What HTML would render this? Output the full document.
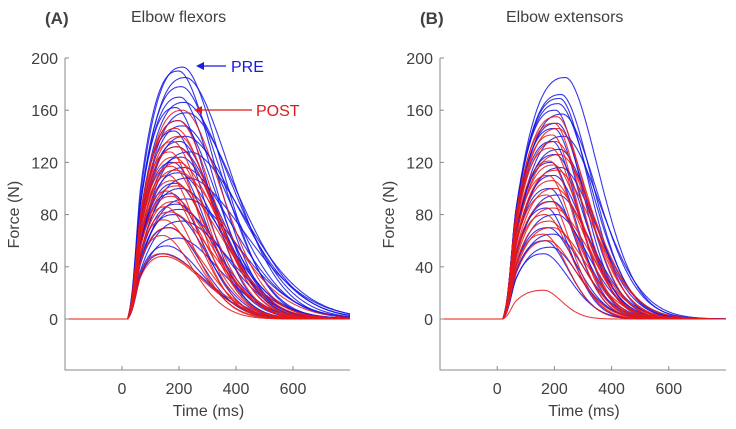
<!DOCTYPE html>
<html><head><meta charset="utf-8">
<style>
body{margin:0;background:#fff;}
svg{display:block;font-family:"Liberation Sans",sans-serif;}
.tk{font-size:16px;fill:#404040;}
</style></head>
<body>
<svg id="c" width="736" height="429" viewBox="0 0 736 429"></svg>
<script>
// Panel A: Elbow flexors
const flexPrePeaks=[193,190,185,178,170,166,162,158,152,148,144,140,136,132,128,124,120,116,112,108,104,100,96,92,88,84,80,75,70,62,56,50];
const flexPreTimes=[215,200,225,210,205,220,190,230,200,215,185,225,205,195,240,210,180,220,200,235,190,210,175,230,195,205,185,215,170,200,160,150];
const flexPreDecay=[200,190,230,210,180,250,170,260,200,240,160,270,190,220,280,200,170,250,210,290,180,230,160,260,200,220,170,240,160,210,180,200];
const flexPostPeaks=[160,152,146,140,136,132,128,124,120,117,114,110,106,102,98,94,90,86,82,76,70,64,50,48];
const flexPostTimes=[215,200,190,205,180,195,170,185,200,175,190,165,180,195,160,175,185,155,170,150,165,145,140,150];
const flexPostDecay=[200,180,190,170,160,200,150,180,210,170,260,150,190,230,160,200,170,150,220,160,180,150,220,200];
// Panel B: Elbow extensors
const extPrePeaks=[185,172,169,165,160,157,150,146,140,136,130,126,120,116,110,100,95,90,85,80,70,65,60,55,50];
const extPreTimes=[240,225,220,215,205,230,210,200,235,195,220,205,190,225,200,185,215,195,175,210,180,200,170,190,165];
const extPreDecay=[170,160,150,170,140,180,150,140,190,130,170,150,130,180,160,130,170,150,120,160,140,150,120,140,130];
const extPostPeaks=[155,150,146,141,136,131,126,121,118,114,110,106,100,95,90,85,80,75,70,65,60,22];
const extPostTimes=[210,200,215,195,205,190,220,185,200,210,180,195,205,175,190,200,170,185,195,165,180,165];
const extPostDecay=[150,140,160,130,170,140,180,130,150,190,130,160,170,120,150,180,130,150,170,120,140,90];
const xTicks=[0,200,400,600];
const yTicks=[0,40,80,120,160,200];

const NS="http://www.w3.org/2000/svg";
const svg=document.getElementById('c');
function mk(tag,attrs,parent){const e=document.createElementNS(NS,tag);for(const k in attrs)e.setAttribute(k,attrs[k]);(parent||svg).appendChild(e);return e;}

function shape(t,A,tp,d){
  const t0=20;
  if(t<=t0)return 0;
  if(t<=tp){
    const u=(t-t0)/(tp-t0);
    const rise=1-Math.pow(1-u,2.6);
    const start=Math.min(1,(t-t0)/45);
    const sm=start*start*(3-2*start);
    return A*rise*(0.35+0.65*sm);
  }
  const w=(t-tp)/d;
  return A*Math.exp(-Math.pow(w,1.8));
}

function panel(x0,x1,letter,title,series,key){
  const yTop=58,yZero=319,yBot=370;
  const X=t=>x0+(t+200)/1000*(x1-x0);
  const Y=v=>yZero-(v)/200*(yZero-yTop);
  const g=mk('g',{});
  
  
  series.forEach(s=>{
    s.peaks.forEach((A,i)=>{
      const tp=s.times[i],d=s.decay[i];
      let pts=[];
      for(let t=-200;t<=800;t+=4){
        const v=shape(t,A,tp,d);
        pts.push(X(t).toFixed(1)+','+Y(v).toFixed(1));
      }
      const p=mk('polyline',{points:pts.join(' '),fill:'none',stroke:s.color,'stroke-width':1.1,'stroke-opacity':0.85},g);
      
      
    });
  });
  const ax=mk('path',{d:`M${x0},${yTop}V${yBot}H${x1}`,fill:'none',stroke:'#888','stroke-width':1},g);
  
  
  yTicks.forEach(v=>{
    mk('line',{x1:x0,x2:x0+4,y1:Y(v),y2:Y(v),stroke:'#888'},g);
    const t=mk('text',{x:x0-7,y:Y(v)+6,'text-anchor':'end',class:'tk'},g);t.textContent=v;
    
    
  });
  xTicks.forEach(v=>{
    mk('line',{x1:X(v),x2:X(v),y1:yBot,y2:yBot-4,stroke:'#888'},g);
    const t=mk('text',{x:X(v),y:394,'text-anchor':'middle',class:'tk'},g);t.textContent=v;
    
    
  });
  const xl=mk('text',{x:X(300)+1,y:416,'text-anchor':'middle',class:'tk','font-size':17},g);xl.textContent='Time (ms)';
  
  
  const yl=mk('text',{x:0,y:0,transform:`translate(${x0-46},${Y(80)}) rotate(-90)`,'text-anchor':'middle',class:'tk','font-size':17},g);yl.textContent='Force (N)';
  
  
  const lt=mk('text',{x:x0-20,y:24,'font-weight':'bold','font-size':17,fill:'#404040'},g);lt.textContent=letter;
  
  
  const tt=mk('text',{x:x0+66,y:22,'font-size':16,fill:'#404040'},g);tt.textContent=title;
  
  
}
panel(65,350,'(A)','Elbow flexors',[
  {peaks:flexPrePeaks,times:flexPreTimes,decay:flexPreDecay,color:'#1414e6',name:'pre'},
  {peaks:flexPostPeaks,times:flexPostTimes,decay:flexPostDecay,color:'#e81818',name:'post'}],'a');
panel(440,726,'(B)','Elbow extensors',[
  {peaks:extPrePeaks,times:extPreTimes,decay:extPreDecay,color:'#1414e6',name:'pre'},
  {peaks:extPostPeaks,times:extPostTimes,decay:extPostDecay,color:'#e81818',name:'post'}],'b');
function arrow(x1,x2,y,color,label,lx,name){
  const g=mk('g',{});
  
  
  mk('line',{x1:x2,x2:x1+6,y1:y,y2:y,stroke:color,'stroke-width':1.2},g);
  mk('path',{d:`M${x1},${y}l8,-4v8z`,fill:color},g);
  const t=mk('text',{x:lx,y:y+6,'font-size':16,fill:color},g);t.textContent=label;
}
arrow(196,226,66,'#1a1ae0','PRE',231,'pre-annotation');
arrow(194,252,110,'#e01a1a','POST',256,'post-annotation');
</script>
</body></html>
